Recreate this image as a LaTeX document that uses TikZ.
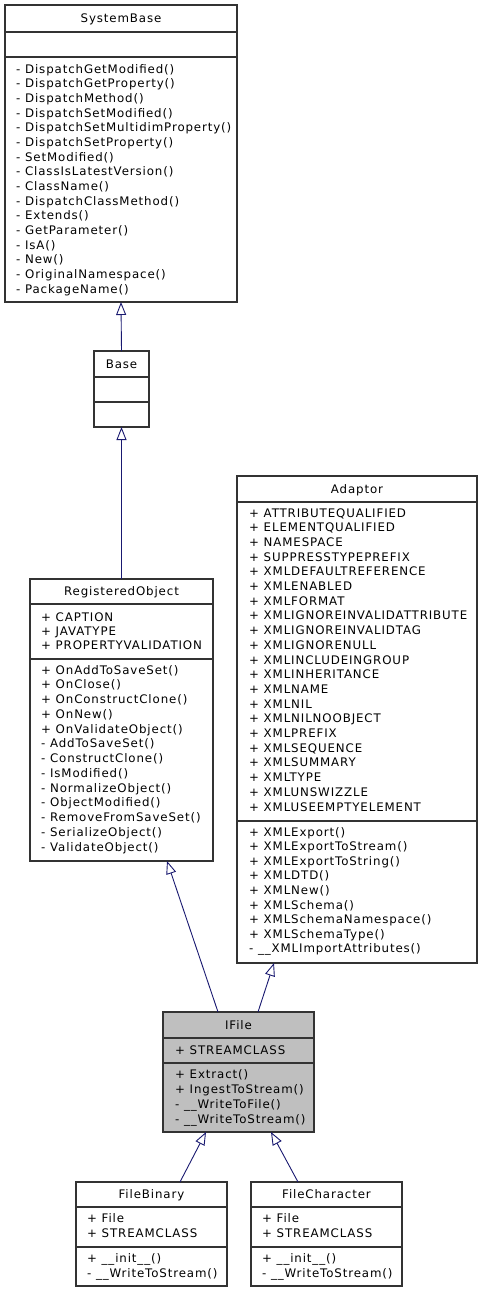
\documentclass[tikz,border=0pt]{standalone}
\usepackage{fontspec}
\setmainfont{DejaVu Sans}
\newfontfamily\umlfont[LetterSpace=7.5]{DejaVu Sans}
\usetikzlibrary{arrows.meta,calc}
\definecolor{edgeblue}{HTML}{191970}
\definecolor{boxline}{HTML}{333333}
\definecolor{hilite}{HTML}{BFBFBF}
\begin{document}
\begin{tikzpicture}[x=1pt,y=-1pt,
  box/.style={draw=boxline, line width=1.1pt, fill=white, inner sep=0pt, outer sep=0pt},
  hbox/.style={box, fill=hilite},
  sep/.style={draw=boxline, line width=1.1pt},
  member/.style={anchor=base west, inner sep=0pt, font=\umlfont\fontsize{11.8}{13}\selectfont},
  ttl/.style={anchor=base, inner sep=0pt, font=\umlfont\fontsize{11.8}{13}\selectfont},
  inh/.style={draw=edgeblue, line width=0.9pt, -{Triangle[open, length=13pt, width=10pt, fill=white]}}
]
\useasboundingbox (0,0) rectangle (483,1293);

% ---------- SystemBase
\node[box, minimum width=232pt, minimum height=297pt] (sb) at (121,153.5) {};
\draw[sep] (5,32) -- (237,32);
\draw[sep] (5,57) -- (237,57);
\node[ttl] (sbt) at (121,22.5) {SystemBase};
\foreach \t [count=\i] in {- DispatchGetModified(),- DispatchGetProperty(),- DispatchMethod(),- DispatchSetModified(),- DispatchSetMultidimProperty(),- DispatchSetProperty(),- SetModified(),- ClassIsLatestVersion(),- ClassName(),- DispatchClassMethod(),- Extends(),- GetParameter(),- IsA(),- New(),- OriginalNamespace(),- PackageName()}
  \node[member] (sbm\i) at (16,{73+(\i-1)*14.67}) {\t};

% ---------- Base
\node[box, minimum width=55pt, minimum height=76pt] (base) at (121.5,389) {};
\draw[sep] (94,377) -- (149,377);
\draw[sep] (94,402) -- (149,402);
\node[ttl] (baset) at (121.5,368) {Base};

% ---------- RegisteredObject
\node[box, minimum width=183pt, minimum height=282pt] (ro) at (121.5,720) {};
\draw[sep] (30,604) -- (213,604);
\draw[sep] (30,659) -- (213,659);
\node[ttl] (rot) at (121.5,595.5) {RegisteredObject};
\foreach \t [count=\i] in {+ CAPTION,+ JAVATYPE,+ PROPERTYVALIDATION}
  \node[member] (roa\i) at (41,{621+(\i-1)*14}) {\t};
\foreach \t [count=\i] in {+ OnAddToSaveSet(),+ OnClose(),+ OnConstructClone(),+ OnNew(),+ OnValidateObject(),- AddToSaveSet(),- ConstructClone(),- IsModified(),- NormalizeObject(),- ObjectModified(),- RemoveFromSaveSet(),- SerializeObject(),- ValidateObject()}
  \node[member] (rom\i) at (41,{674+(\i-1)*14.75}) {\t};

% ---------- Adaptor
\node[box, minimum width=240pt, minimum height=487pt] (ad) at (357,719.5) {};
\draw[sep] (237,502) -- (477,502);
\draw[sep] (237,821) -- (477,821);
\node[ttl] (adt) at (357,493) {Adaptor};
\foreach \t [count=\i] in {+ ATTRIBUTEQUALIFIED,+ ELEMENTQUALIFIED,+ NAMESPACE,+ SUPPRESSTYPEPREFIX,+ XMLDEFAULTREFERENCE,+ XMLENABLED,+ XMLFORMAT,+ XMLIGNOREINVALIDATTRIBUTE,+ XMLIGNOREINVALIDTAG,+ XMLIGNORENULL,+ XMLINCLUDEINGROUP,+ XMLINHERITANCE,+ XMLNAME,+ XMLNIL,+ XMLNILNOOBJECT,+ XMLPREFIX,+ XMLSEQUENCE,+ XMLSUMMARY,+ XMLTYPE,+ XMLUNSWIZZLE,+ XMLUSEEMPTYELEMENT}
  \node[member] (ada\i) at (249,{517+(\i-1)*14.7}) {\t};
\foreach \t [count=\i] in {+ XMLExport(),+ XMLExportToStream(),+ XMLExportToString(),+ XMLDTD(),+ XMLNew(),+ XMLSchema(),+ XMLSchemaNamespace(),+ XMLSchemaType(),- \_\_XMLImportAttributes()}
  \node[member] (adm\i) at (249,{836+(\i-1)*14.6}) {\t};

% ---------- IFile
\node[hbox, minimum width=151pt, minimum height=120pt] (ifile) at (238.5,1072) {};
\draw[sep] (163,1038) -- (314,1038);
\draw[sep] (163,1063) -- (314,1063);
\node[ttl] (ifilet) at (238.5,1029) {IFile};
\node[member] (ifa1) at (175,1054) {+ STREAMCLASS};
\foreach \t [count=\i] in {+ Extract(),+ IngestToStream(),- \_\_WriteToFile(),- \_\_WriteToStream()}
  \node[member] (ifm\i) at (175,{1078+(\i-1)*15}) {\t};

% ---------- FileBinary
\node[box, minimum width=151pt, minimum height=104pt] (fb) at (151.5,1234) {};
\draw[sep] (76,1207) -- (227,1207);
\draw[sep] (76,1247) -- (227,1247);
\node[ttl] (fbt) at (151.5,1198.5) {FileBinary};
\node[member] (fba1) at (87,1222) {+ File};
\node[member] (fba2) at (87,1237) {+ STREAMCLASS};
\node[member] (fbm1) at (87,1262) {+ \_\_init\_\_()};
\node[member] (fbm2) at (87,1277) {- \_\_WriteToStream()};

% ---------- FileCharacter
\node[box, minimum width=151pt, minimum height=104pt] (fc) at (326.5,1234) {};
\draw[sep] (251,1207) -- (402,1207);
\draw[sep] (251,1247) -- (402,1247);
\node[ttl] (fct) at (326.5,1198.5) {FileCharacter};
\node[member] (fca1) at (262,1222) {+ File};
\node[member] (fca2) at (262,1237) {+ STREAMCLASS};
\node[member] (fcm1) at (262,1262) {+ \_\_init\_\_()};
\node[member] (fcm2) at (262,1277) {- \_\_WriteToStream()};

% ---------- inheritance edges
\draw[inh] (base.north) -- (sb.south);
\draw[inh] (ro.north) -- (base.south);
\draw[inh] ([xshift=55pt]ifile.north west) -- ([xshift=137pt]ro.south west);
\draw[inh] ([xshift=95pt]ifile.north west) -- ([xshift=37pt]ad.south west);
\draw[inh] ([xshift=104pt]fb.north west) -- ([xshift=43pt]ifile.south west);
\draw[inh] ([xshift=47pt]fc.north west) -- ([xshift=108pt]ifile.south west);
\end{tikzpicture}
\end{document}
